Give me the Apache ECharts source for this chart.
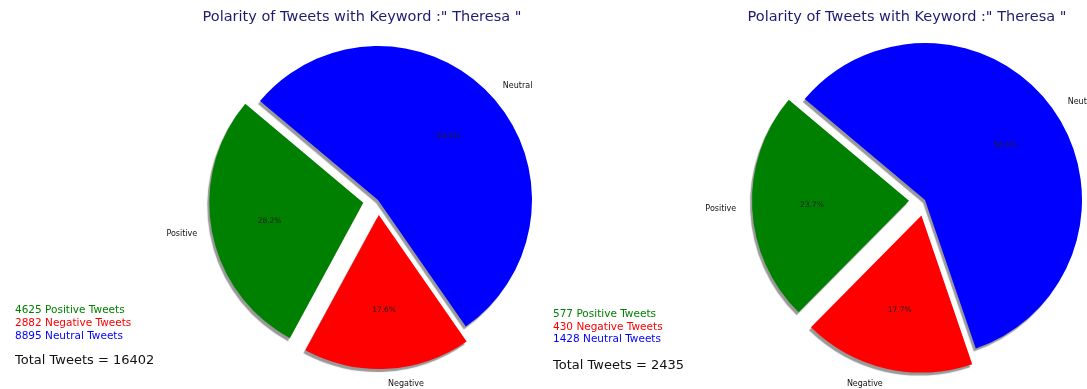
<!DOCTYPE html>
<html>
<head>
<meta charset="utf-8">
<script src="https://cdn.jsdelivr.net/npm/echarts@6/dist/echarts.min.js"></script>
<style>
  html, body { margin: 0; padding: 0; background: #fff; }
  #chart { width: 1087px; height: 389px; }
</style>
</head>
<body>
<div id="chart"></div>
<script>
// Tweet polarity counts for the keyword, two collections
const categories = ['Positive', 'Negative', 'Neutral'];
const sliceColors = ['#008000', '#ff0000', '#0000ff'];
const exploded = [true, true, false];
const leftCounts = [4625, 2882, 8895];
const rightCounts = [577, 430, 1428];
const keyword = 'Theresa';

const FONT = 'DejaVu Sans';
const chart = echarts.init(document.getElementById('chart'));

function total(arr) { return arr.reduce((a, b) => a + b, 0); }

function pieData(counts) {
  return categories.map((name, i) => ({
    name: name,
    value: counts[i],
    selected: exploded[i],
    itemStyle: { color: sliceColors[i] }
  }));
}

function pieSeries(counts, center, r) {
  const sum = total(counts);
  const off = Math.round(r * 0.1);
  const common = {
    type: 'pie',
    center: center,
    startAngle: 140,
    clockwise: false,
    selectedMode: 'multiple',
    selectedOffset: off,
    avoidLabelOverlap: false,
    silent: true,
    animation: false,
    emphasis: { disabled: true }
  };
  return [
    Object.assign({}, common, {
      radius: [0, r],
      data: pieData(counts),
      itemStyle: {
        shadowColor: 'rgba(0,0,0,0.4)',
        shadowOffsetX: -2,
        shadowOffsetY: 3,
        shadowBlur: 1
      },
      label: {
        show: true,
        position: 'outside',
        formatter: '{b}',
        fontFamily: FONT,
        fontSize: 8,
        color: '#111',
        distanceToLabelLine: 0
      },
      labelLine: { show: false, length: Math.round(r * 0.1), length2: 0 }
    }),
    // transparent twin used only to place the percentage labels at 0.6 r
    Object.assign({}, common, {
      radius: [0, r * 1.2],
      data: pieData(counts).map(d => Object.assign(d, { itemStyle: { color: 'rgba(0,0,0,0)' } })),
      label: {
        show: true,
        position: 'inside',
        formatter: p => (p.value / sum * 100).toFixed(1) + '%',
        fontFamily: FONT,
        fontSize: 7.5,
        color: '#222'
      },
      labelLine: { show: false }
    })
  ];
}

function sideTexts(counts, x, ys, totalY) {
  const items = categories.map((name, i) => ({
    text: counts[i] + ' ' + name + ' Tweets',
    left: x, top: ys[i], padding: 0,
    textStyle: { fontFamily: FONT, fontSize: 10.5, fontWeight: 'normal', color: sliceColors[i] }
  }));
  items.push({
    text: 'Total Tweets = ' + total(counts),
    left: x, top: totalY, padding: 0,
    textStyle: { fontFamily: FONT, fontSize: 13, fontWeight: 'normal', color: '#111' }
  });
  return items;
}

const titleText = 'Polarity of Tweets with Keyword :" ' + keyword + ' "';

chart.setOption({
  backgroundColor: '#fff',
  title: [
    { text: titleText, left: 362, top: 10, textAlign: 'center', padding: 0,
      textStyle: { fontFamily: FONT, fontSize: 14.5, fontWeight: 'normal', color: '#1c1c70' } },
    { text: titleText, left: 907, top: 10, textAlign: 'center', padding: 0,
      textStyle: { fontFamily: FONT, fontSize: 14.5, fontWeight: 'normal', color: '#1c1c70' } }
  ].concat(
    sideTexts(leftCounts, 15, [305, 318, 331], 354),
    sideTexts(rightCounts, 553, [309, 322, 334], 359)
  ),
  series: [].concat(
    pieSeries(leftCounts, [378, 200], 154),
    pieSeries(rightCounts, [925, 200], 157)
  )
});
</script>
</body>
</html>
